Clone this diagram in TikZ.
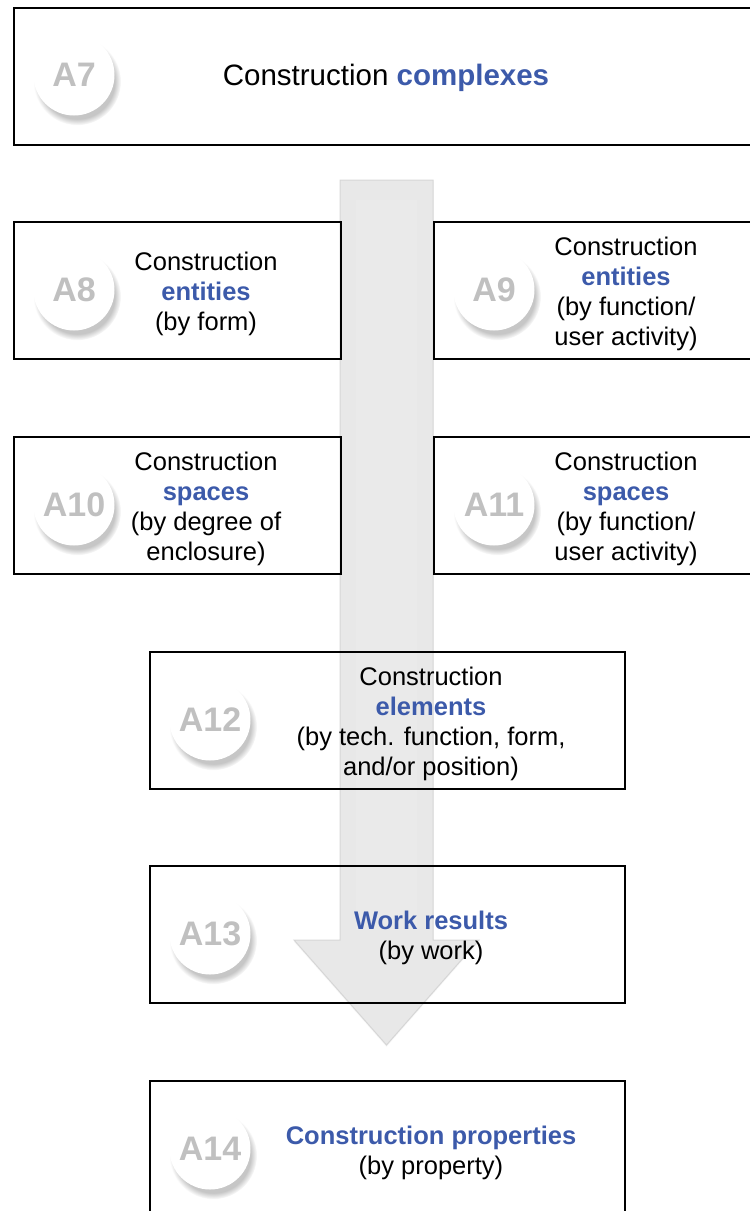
\documentclass[tikz,border=0pt]{standalone}
\usepackage{fontspec}
\setmainfont{Liberation Sans}
\usetikzlibrary{positioning,shadows}
\definecolor{catblue}{RGB}{60,90,170}
\definecolor{badgegray}{RGB}{192,192,192}
\definecolor{flowfill}{RGB}{232,232,232}
\definecolor{flowedge}{RGB}{214,214,214}
\newcommand{\comma}{,}
\newcommand{\kw}[1]{\textcolor{catblue}{\bfseries #1}}

\begin{document}
\begin{tikzpicture}[x=1pt,y=-1pt,
    catbox/.style={draw=black,line width=1.6pt,inner sep=0pt},
    badge/.style={circle,fill=white,minimum size=81pt,inner sep=0pt,text=badgegray,
      font=\fontsize{34}{34}\selectfont\bfseries,
      circular drop shadow={shadow xshift=3pt,shadow yshift=-6pt,shadow scale=1.08,opacity=0.45}},
    entry/.style={align=center,inner sep=0pt,font=\fontsize{25.5}{30}\selectfont}]
  \useasboundingbox (0,0) rectangle (750,1211);
  \clip (0,0) rectangle (750,1211);
  % the big arrow behind the boxes
  \draw[fill=flowfill,draw=flowedge,line width=1pt,
    drop shadow={shadow xshift=0pt,shadow yshift=-2pt,opacity=0.06}]
    (340,180) -- (433,180) -- (433,940) -- (479,940) -- (386.5,1045)
    -- (294,940) -- (340,940) -- cycle;
  \fill[white,opacity=0.12] (356,200) rectangle (417,930);
  \foreach \n/\l/\r/\t/\cx/\tx/\d in {
      8/13/340/221/74/206/{Construction\\\kw{entities}\\(by form)},
      9/433/760/221/494/626/{Construction\\\kw{entities}\\(by function/\\user activity)},
      10/13/340/436/74/206/{Construction\\\kw{spaces}\\(by degree of\\enclosure)},
      11/433/760/436/494/626/{Construction\\\kw{spaces}\\(by function/\\user activity)},
      12/149/624/651/210/431/{Construction\\\kw{elements}\\(by tech. function\comma{} form\comma\\and/or position)},
      13/149/624/865/210/431/{\kw{Work results}\\(by work)},
      14/149/624/1080/210/431/{\kw{Construction properties}\\(by property)}}
  {
    \node[catbox,minimum width=\r-\l,minimum height=137pt,anchor=north west] (box\n) at (\l,\t) {};
    \node[badge] (badge\n) at (\cx,\t+69) {A\n};
    \node[entry] (text\n) at (\tx,\t+73) {\d};
  }
  % top box spans the whole width
  \node[catbox,minimum width=747pt,minimum height=137pt,anchor=north west] (box7) at (13,7) {};
  \node[badge] (badge7) at (74,75) {A7};
  \node[entry,font=\fontsize{29.5}{34}\selectfont] (text7) at (386,78) {Construction \kw{complexes}};
\end{tikzpicture}
\end{document}
